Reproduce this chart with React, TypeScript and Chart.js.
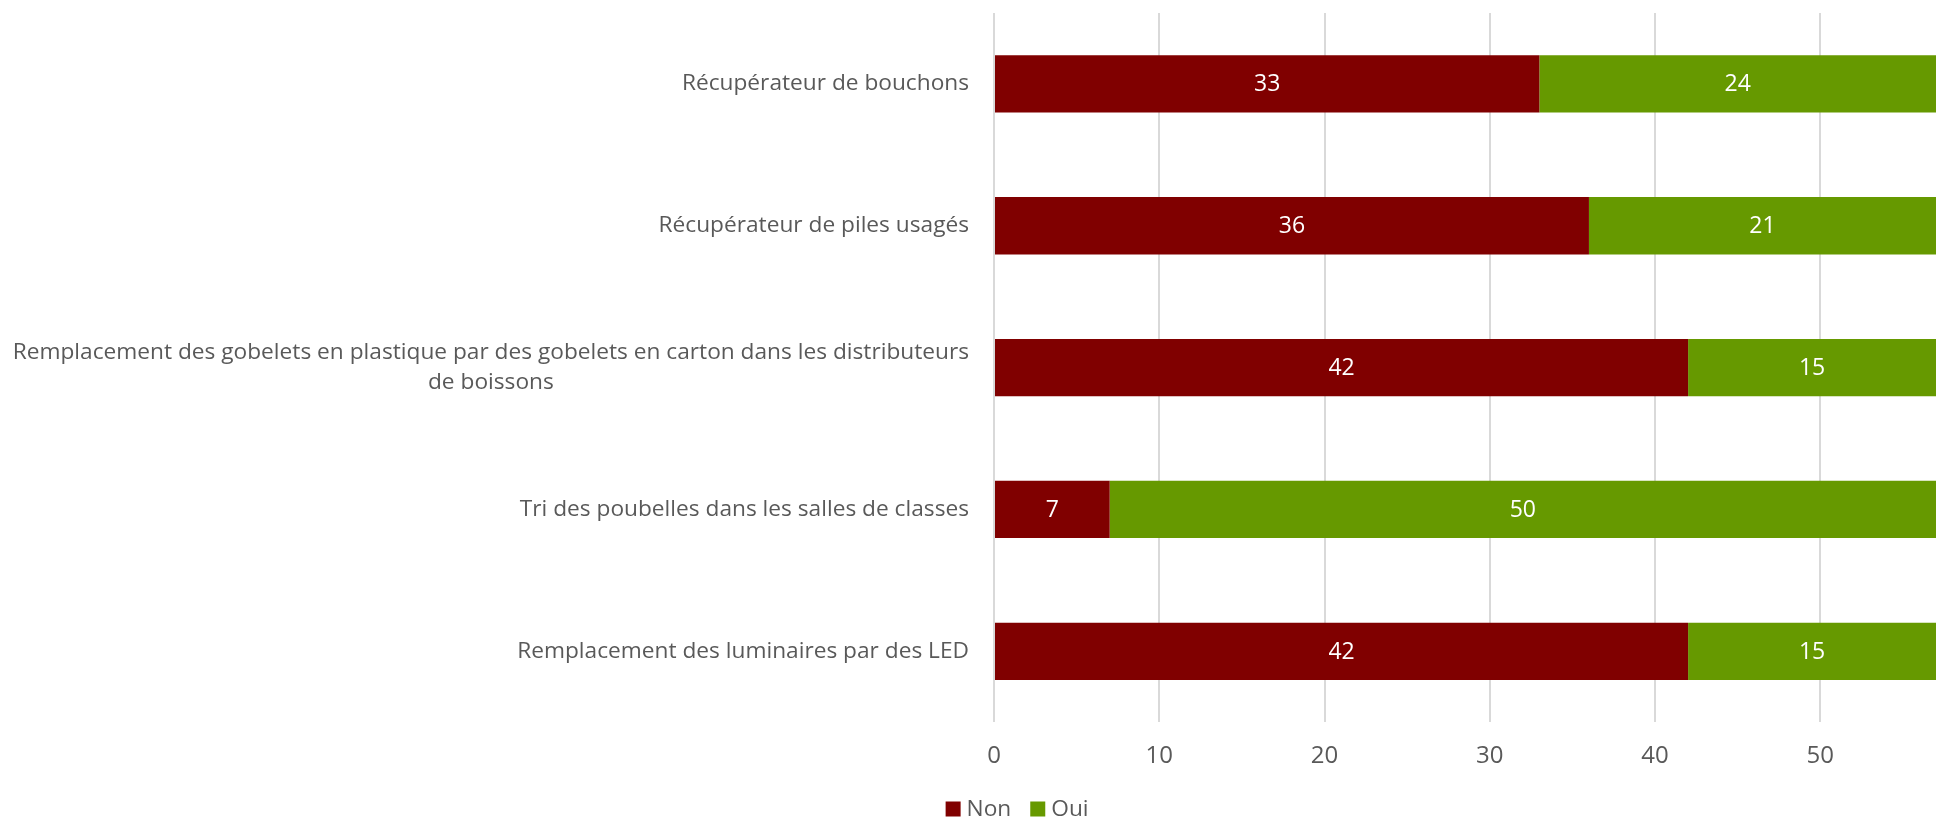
import React, { useEffect, useRef } from "react";
import { Chart, registerables } from "chart.js";

Chart.register(...registerables);

const categories: string[][] = [
  ["Récupérateur de bouchons"],
  ["Récupérateur de piles usagés"],
  [
    "Remplacement des gobelets en plastique par des gobelets en carton dans les distributeurs",
    "de boissons",
  ],
  ["Tri des poubelles dans les salles de classes"],
  ["Remplacement des luminaires par des LED"],
];
const nonValues = [33, 36, 42, 7, 42];
const ouiValues = [24, 21, 15, 50, 15];
const seriesNames = ["Non", "Oui"];
const seriesColors = ["#800000", "#669900"];
const xMax = 57;
const xStep = 10;

const FONT = "'Open Sans', 'DejaVu Sans', sans-serif";
const TEXT = "#595959";

export default function App() {
  const ref = useRef<HTMLCanvasElement | null>(null);
  useEffect(() => {
    document.body.style.margin = "0";
    const canvas = ref.current!;
    const labelPlugin = {
      id: "customLabels",
      afterDatasetsDraw(chart: any) {
        const ctx = chart.ctx;
        ctx.save();
        // data labels
        ctx.font = `23px ${FONT}`;
        ctx.fillStyle = "#ffffff";
        ctx.textAlign = "center";
        ctx.textBaseline = "middle";
        chart.data.datasets.forEach((ds: any, di: number) => {
          const meta = chart.getDatasetMeta(di);
          meta.data.forEach((bar: any, i: number) => {
            const v = ds.data[i];
            const cx = (bar.x + bar.base) / 2;
            ctx.fillText(String(v), cx, bar.y + 1);
          });
        });
        // category labels
        const yScale = chart.scales.y;
        const area = chart.chartArea;
        ctx.fillStyle = TEXT;
        ctx.font = `22.7px ${FONT}`;
        const lineH = 30;
        categories.forEach((lines, i) => {
          const cy = yScale.getPixelForValue(i);
          const widest = Math.max(...lines.map((l) => ctx.measureText(l).width));
          const right = area.left - 25;
          const startY = cy - ((lines.length - 1) * lineH) / 2;
          lines.forEach((l, li) => {
            if (lines.length > 1) {
              ctx.textAlign = "center";
              ctx.fillText(l, right - widest / 2, startY + li * lineH);
            } else {
              ctx.textAlign = "right";
              ctx.fillText(l, right, startY + li * lineH);
            }
          });
        });
        // legend
        ctx.font = `22.7px ${FONT}`;
        ctx.textAlign = "left";
        const box = 15;
        const gapText = 6;
        const gapItem = 19;
        const widths = seriesNames.map((n) => box + gapText + ctx.measureText(n).width);
        const total = widths.reduce((a, b) => a + b, 0) + gapItem * (widths.length - 1);
        let x = chart.width * 0.524 - total / 2;
        const ly = 809;
        seriesNames.forEach((n, i) => {
          ctx.fillStyle = seriesColors[i];
          ctx.fillRect(x, ly - box / 2, box, box);
          ctx.fillStyle = TEXT;
          ctx.fillText(n, x + box + gapText, ly + 1);
          x += widths[i] + gapItem;
        });
        ctx.restore();
      },
    };
    const chart = new Chart(canvas, {
      type: "bar",
      data: {
        labels: categories.map((c) => c.join(" ")),
        datasets: [
          {
            label: seriesNames[0],
            data: nonValues,
            backgroundColor: seriesColors[0],
            barPercentage: 0.404,
            categoryPercentage: 1,
          },
          {
            label: seriesNames[1],
            data: ouiValues,
            backgroundColor: seriesColors[1],
            barPercentage: 0.404,
            categoryPercentage: 1,
          },
        ],
      },
      options: {
        indexAxis: "y",
        responsive: false,
        animation: false,
        layout: { padding: { top: 13, right: 5, bottom: 30, left: 0 } },
        plugins: {
          legend: { display: false },
          tooltip: { enabled: false },
        },
        scales: {
          x: {
            stacked: true,
            min: 0,
            max: xMax,
            grid: { color: "#d9d9d9", lineWidth: 2, drawTicks: false },
            border: { display: false },
            ticks: {
              stepSize: xStep,
              includeBounds: false,
              color: TEXT,
              font: { family: FONT, size: 24 },
              padding: 20,
            },
            afterBuildTicks(scale: any) {
              scale.ticks = scale.ticks.filter((t: any) => t.value % xStep === 0);
            },
          },
          y: {
            stacked: true,
            grid: { display: false },
            border: { display: false },
            ticks: { display: false },
            afterFit(scale: any) {
              scale.width = 994;
            },
          },
        },
      },
      plugins: [labelPlugin],
    });
    return () => chart.destroy();
  }, []);
  return (
    <div style={{ width: 1941, height: 821 }}>
      <canvas ref={ref} width={1941} height={821} />
    </div>
  );
}
